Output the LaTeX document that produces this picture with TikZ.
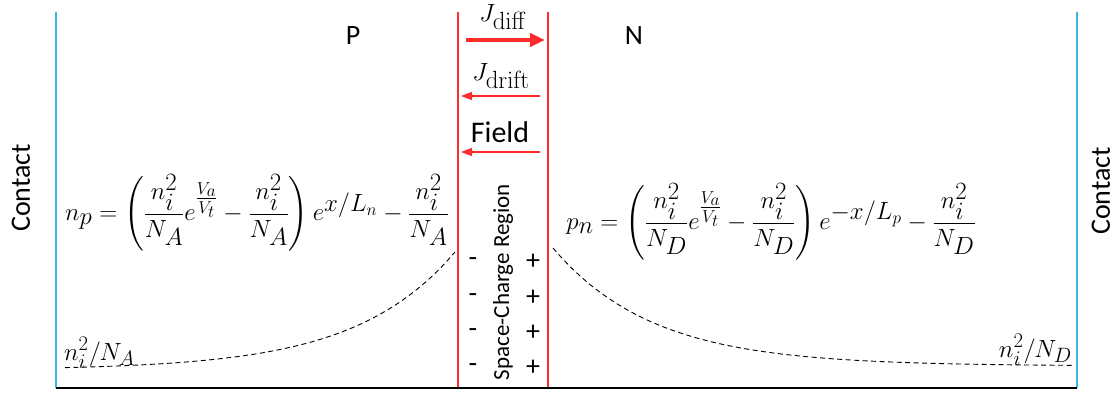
\documentclass[tikz,border=0pt]{standalone}
\usepackage{amsmath}
\usepackage[no-math]{fontspec}
\setmainfont{Carlito}
\usetikzlibrary{arrows.meta,positioning,calc}
\definecolor{contactblue}{HTML}{3DB4E6}
\definecolor{junred}{HTML}{FF2A2A}
\tikzset{
  vcontact/.style={draw=contactblue,line width=1.3pt},
  vedge/.style={draw=junred,line width=1.2pt},
  vbase/.style={draw=black,line width=2.4pt},
  vconc/.style={draw=black,line width=0.9pt,dash pattern=on 5pt off 3.5pt},
  vtxt/.style={inner sep=0pt,font=\fontsize{28}{30}\selectfont},
  vmath/.style={inner sep=0pt,font=\fontsize{33}{35}\selectfont},
  vthick/.style={-{Triangle[length=15pt,width=13pt]},draw=junred,fill=junred,line width=4pt},
  vthin/.style={-{Triangle[length=11pt,width=8pt]},draw=junred,fill=junred,line width=1.2pt}
}

\begin{document}
\begin{tikzpicture}[x=1pt,y=-1pt]
  \useasboundingbox (0,0) rectangle (1120,394);
  \coordinate (tl) at (56,12);
  \coordinate (bl) at (56,388);
  \coordinate (tr) at (1077,12);
  \coordinate (br) at (1077,388);
  \coordinate (jl) at (458,12);
  \coordinate (jlb) at (458,388);
  \coordinate (jr) at (548,12);
  \coordinate (jrb) at (548,388);
  \draw[vcontact] (tl) -- (bl);
  \draw[vcontact] (tr) -- (br);
  \draw[vedge] (jl) -- (jlb);
  \draw[vedge] (jr) -- (jrb);
  \draw[vbase] (bl) -- (br);
  \node[vtxt,rotate=90] (cl) at (21,188) {Contact};
  \node[vtxt,rotate=90] (cr) at (1101,191) {Contact};
  \node[vtxt] (pside) at (353,36) {P};
  \node[vtxt] (nside) at (634,36) {N};
  \node[vmath,font=\fontsize{39}{41}\selectfont] (jdiff) at (503,17) {$J_{\mathrm{diff}}$};
  \coordinate (dfa) at (466,40);
  \coordinate (dfb) at (545,40);
  \draw[vthick] (dfa) -- (dfb);
  \node[vmath,font=\fontsize{39}{41}\selectfont] (jdrift) at (501,76) {$J_{\mathrm{drift}}$};
  \coordinate (dra) at (540,96);
  \coordinate (drb) at (461,96);
  \draw[vthin] (dra) -- (drb);
  \node[vtxt,font=\fontsize{30}{32}\selectfont] (field) at (500,132) {Field};
  \coordinate (fda) at (540,152);
  \coordinate (fdb) at (461,152);
  \draw[vthin] (fda) -- (fdb);
  \node[vmath] (npeq) at (257,213) {$n_p=\left(\dfrac{n_i^2}{N_A}e^{\frac{V_a}{V_t}}-\dfrac{n_i^2}{N_A}\right)e^{x/L_n}-\dfrac{n_i^2}{N_A}$};
  \node[vmath] (pneq) at (771,222) {$p_n=\left(\dfrac{n_i^2}{N_D}e^{\frac{V_a}{V_t}}-\dfrac{n_i^2}{N_D}\right)e^{-x/L_p}-\dfrac{n_i^2}{N_D}$};
  \node[vtxt,font=\fontsize{23}{25}\selectfont,rotate=90] (scr) at (503,282) {Space-Charge Region};
  \foreach \y [count=\i] in {262,298,333,368}{
    \node[vtxt] (m\i) at (473,\y) {-};
    \node[vtxt] (p\i) at (533,\y) {+};
  }
  \node[vmath,font=\fontsize{29}{31}\selectfont,anchor=base west] (nieqa) at (64,360) {$n_i^2/N_A$};
  \node[vmath,font=\fontsize{29}{31}\selectfont,anchor=base east] (nieqd) at (1072,357) {$n_i^2/N_D$};
  \draw[vconc] plot[domain=65:455,samples=60,smooth] (\x,{370-118*exp((\x-455)/100)});
  \draw[vconc] plot[domain=553:1075,samples=60,smooth] (\x,{366-118*exp(-(\x-553)/100)});
\end{tikzpicture}
\end{document}
